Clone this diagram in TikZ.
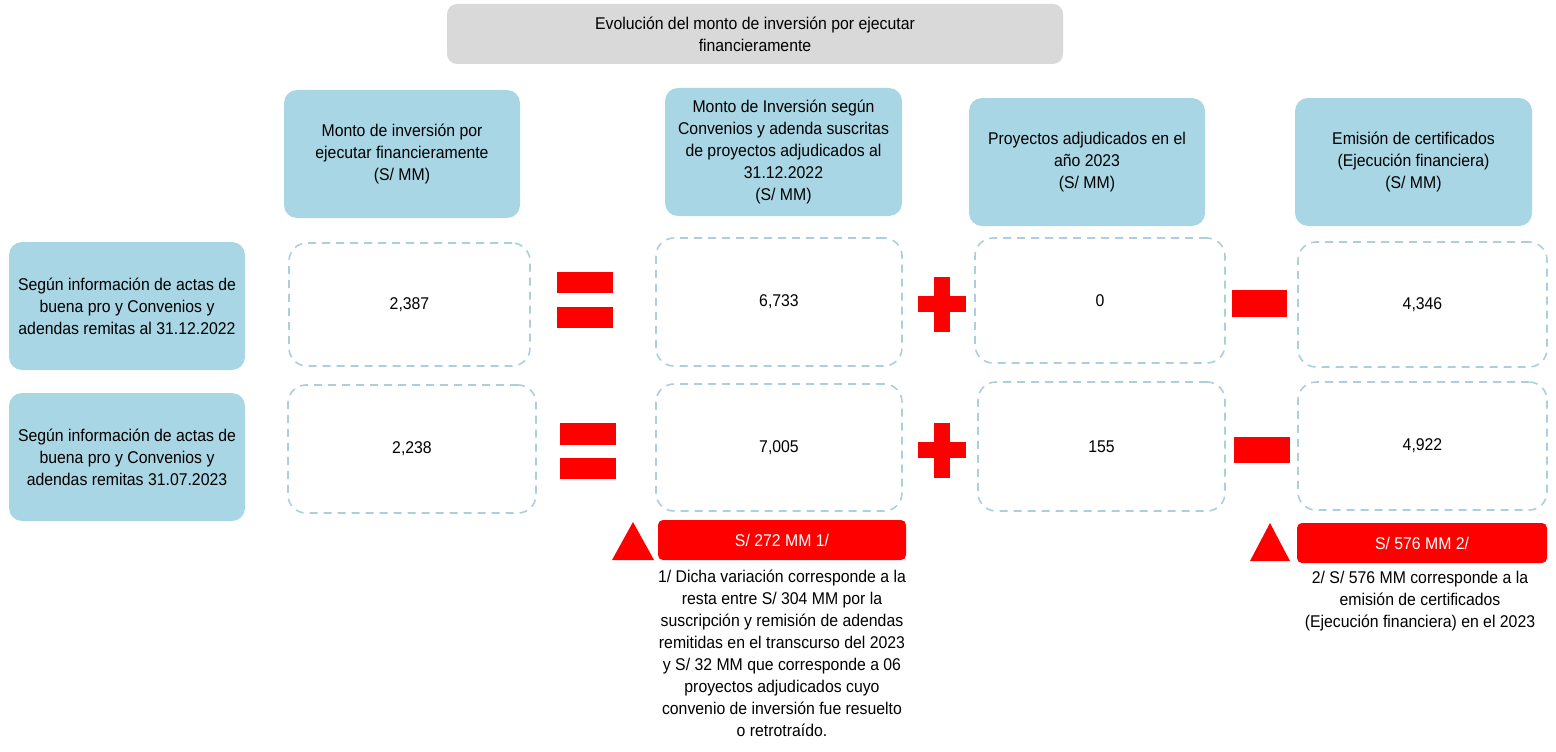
\documentclass[tikz,border=0pt]{standalone}
\usepackage{fontspec}
\setmainfont{Liberation Sans}[FakeStretch=0.93]
\definecolor{hblue}{HTML}{A9D6E4}
\definecolor{dblue}{HTML}{A9D0DC}
\definecolor{tgray}{HTML}{D9D9D9}
\definecolor{opred}{HTML}{FF0000}
\begin{document}
\begin{tikzpicture}[x=1pt,y=-1pt,
  every node/.style={font=\fontsize{17}{22}\selectfont, text=black, align=center, inner sep=0pt},
  titlebox/.style={fill=tgray, rounded corners=10pt, minimum width=616pt, minimum height=60pt},
  hdr/.style={fill=hblue, rounded corners=13pt, minimum width=236pt, minimum height=128pt},
  valbox/.style={draw=dblue, dash pattern=on 8pt off 6pt, line width=1.6pt, rounded corners=18pt, minimum width=244pt, minimum height=126pt},
  redbox/.style={fill=opred, rounded corners=5pt, minimum width=248pt, minimum height=40pt, text=white},
  opshape/.style={fill=opred},
  notetext/.style={}]
\useasboundingbox (0,0) rectangle (1556,752);

% title
\node[titlebox] (title) at (755,34) {Evolución del monto de inversión por ejecutar\\financieramente};

% column headers
\node[hdr] (h1) at (402,154) {Monto de inversión por\\ejecutar financieramente\\(S/ MM)};
\node[hdr, minimum width=237pt] (h2) at (783.5,152) {Monto de Inversión según\\Convenios y adenda suscritas\\de proyectos adjudicados al\\31.12.2022\\(S/ MM)};
\node[hdr] (h3) at (1087,162) {Proyectos adjudicados en el\\año 2023\\(S/ MM)};
\node[hdr, minimum width=237pt] (h4) at (1413.5,162) {Emisión de certificados\\(Ejecución financiera)\\(S/ MM)};

% row labels
\node[hdr] (l1) at (127,306) {Según información de actas de\\buena pro y Convenios y\\adendas remitas al 31.12.2022};
\node[hdr] (l2) at (127,457) {Según información de actas de\\buena pro y Convenios y\\adendas remitas 31.07.2023};

% value boxes row 1
\node[valbox, minimum width=241pt, minimum height=123pt] (v11) at (409.5,304.5) {2,387};
\node[valbox, minimum width=246pt, minimum height=128pt] (v12) at (779,302) {6,733};
\node[valbox, minimum width=250pt, minimum height=125pt] (v13) at (1100,300.5) {0};
\node[valbox, minimum width=249pt, minimum height=125pt] (v14) at (1422.5,304.5) {4,346};

% value boxes row 2
\node[valbox, minimum width=248pt, minimum height=128pt] (v21) at (412,449) {2,238};
\node[valbox, minimum width=246pt, minimum height=127pt] (v22) at (779,447.5) {7,005};
\node[valbox, minimum width=247pt, minimum height=129pt] (v23) at (1101.5,446.5) {155};
\node[valbox, minimum width=249pt, minimum height=128pt] (v24) at (1422.5,446) {4,922};

% operators row 1
\fill[opshape] (557,272) rectangle (613,293);
\fill[opshape] (557,307) rectangle (613,328);
\fill[opshape] (934,277) rectangle (950,332);
\fill[opshape] (918,296) rectangle (966,312);
\fill[opshape] (1232,290) rectangle (1287,317);

% operators row 2
\fill[opshape] (560,423) rectangle (616,445);
\fill[opshape] (560,458) rectangle (616,479);
\fill[opshape] (934,423) rectangle (950,478);
\fill[opshape] (918,442) rectangle (966,458);
\fill[opshape] (1234,437) rectangle (1290,463);

% variation boxes
\node[redbox] (r1) at (782,540) {S/ 272 MM 1/};
\node[redbox, minimum width=250pt] (r2) at (1422,543) {S/ 576 MM 2/};
\fill[opshape] (612,560) -- (633,522) -- (654,560) -- cycle;
\fill[opshape] (1250,561) -- (1270,523) -- (1290,561) -- cycle;

% notes
\node[notetext] (n1) at (782,653) {1/ Dicha variación corresponde a la\\resta entre S/ 304 MM por la\\suscripción y remisión de adendas\\remitidas en el transcurso del 2023\\y S/ 32 MM que corresponde a 06\\proyectos adjudicados cuyo\\convenio de inversión fue resuelto\\o retrotraído.};
\node[notetext] (n2) at (1420,601) {2/ S/ 576 MM corresponde a la\\emisión de certificados\\(Ejecución financiera) en el 2023};
\end{tikzpicture}
\end{document}
